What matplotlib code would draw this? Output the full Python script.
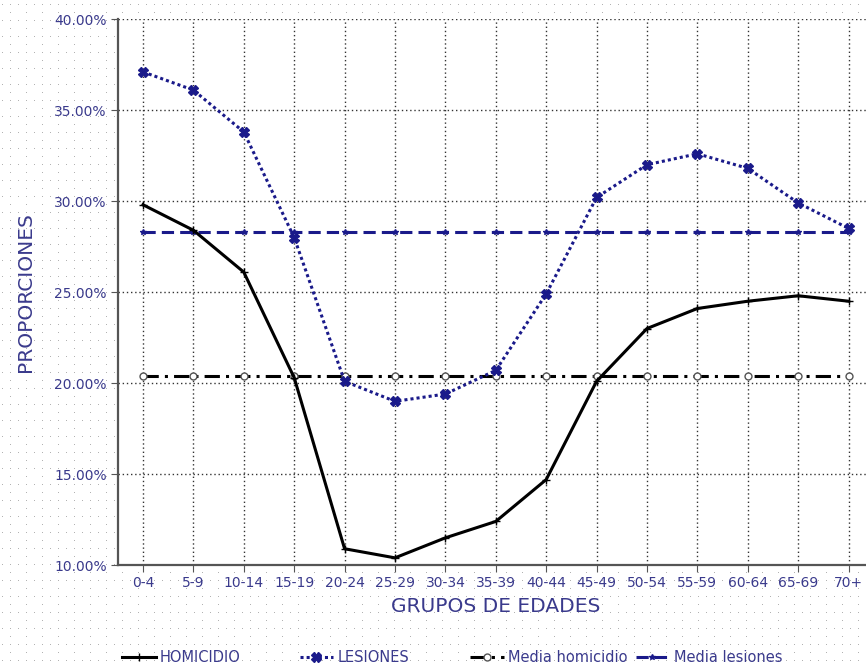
import numpy as np
import matplotlib.pyplot as plt
from matplotlib.lines import Line2D

plt.rcParams['font.family'] = ['DejaVu Sans']

grupos = ['0-4', '5-9', '10-14', '15-19', '20-24', '25-29', '30-34', '35-39',
          '40-44', '45-49', '50-54', '55-59', '60-64', '65-69', '70+']
homicidio = [29.8, 28.4, 26.1, 20.3, 10.9, 10.4, 11.5, 12.4, 14.7, 20.1,
             23.0, 24.1, 24.5, 24.8, 24.5]
lesiones = [37.1, 36.1, 33.8, 28.0, 20.1, 19.0, 19.4, 20.7, 24.9, 30.2,
            32.0, 32.6, 31.8, 29.9, 28.5]
media_homicidio = 20.4
media_lesiones = 28.3

azul = '#1a1a8a'
texto = '#3a3a8c'

fig = plt.figure(figsize=(8.66, 6.68), dpi=100)

# fondo punteado (textura del original)
W, H = 866, 668
tex = np.ones((H, W, 3))
tex[4::16, 2::8] = 0.70
tex[12::16, 10::16] = 0.70
bg = fig.add_axes([0, 0, 1, 1], zorder=-10)
bg.imshow(tex, interpolation='nearest', aspect='auto')
bg.axis('off')

ax = fig.add_axes([0.136, 0.154, 0.873, 0.8174])
ax.patch.set_facecolor('white')
x = np.arange(len(grupos))

estilos = [
    dict(color='black', linewidth=2.2, linestyle='-', marker='+', markersize=6),
    dict(color=azul, linewidth=2.2, linestyle=(0, (1, 1)), marker='X', markersize=7),
    dict(color='black', linewidth=2.2, linestyle=(0, (5, 2, 1, 2)), marker='o', markersize=5,
         markerfacecolor='white', markeredgecolor='#555555'),
    dict(color=azul, linewidth=2.2, linestyle=(0, (4, 2)), marker='*', markersize=4),
]
nombres = ['HOMICIDIO', 'LESIONES', 'Media homicidio', 'Media lesiones']

ax.plot(x, homicidio, zorder=4, **estilos[0])
ax.plot(x, lesiones, zorder=5, **estilos[1])
ax.plot(x, [media_homicidio] * len(x), zorder=3, **estilos[2])
ax.plot(x, [media_lesiones] * len(x), zorder=3, **estilos[3])

ax.set_xlim(-0.5, len(grupos) - 0.5)
ax.set_ylim(10, 40)
ax.set_xticks(x)
ax.set_xticklabels(grupos)
ax.set_yticks(np.arange(10, 41, 5))
ax.set_yticklabels(['%.2f%%' % v for v in np.arange(10, 41, 5)])
ax.tick_params(axis='both', colors='#555555', labelcolor=texto, labelsize=10,
               length=5, direction='out', pad=3)
ax.grid(True, color='#333333', linestyle=(0, (1, 2)), linewidth=1.0)
for s in ['top', 'right']:
    ax.spines[s].set_visible(False)
for s in ['left', 'bottom']:
    ax.spines[s].set_color('#555555')
    ax.spines[s].set_linewidth(1.6)

ax.set_xlabel('GRUPOS DE EDADES', color=texto, fontsize=14.5, labelpad=5)
ax.set_ylabel('PROPORCIONES', color=texto, fontsize=14.5, labelpad=14)

# leyenda: una entrada por posicion
pos_leyenda = [0.141, 0.346, 0.543, 0.734]
for est, nom, px in zip(estilos, nombres, pos_leyenda):
    h = Line2D([], [], **est)
    leg = fig.legend([h], [nom], loc='center left', bbox_to_anchor=(px, 0.016),
                     frameon=False, fontsize=10.5, handlelength=2.3, handletextpad=0.3,
                     borderpad=0, borderaxespad=0)
    for t in leg.get_texts():
        t.set_color(texto)

fig.savefig('out.png', dpi=100)
